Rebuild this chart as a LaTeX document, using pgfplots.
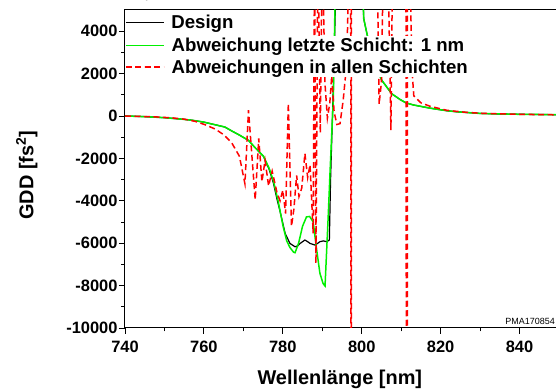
\documentclass[border=0pt]{standalone}
\usepackage{pgfplots}
\pgfplotsset{compat=1.18}
\usepackage{fontspec}
\setmainfont{Liberation Sans}
\definecolor{lgreen}{RGB}{0,240,0}
\definecolor{lred}{RGB}{255,0,0}
\pgfplotsset{
 mylegend/.style={
  legend style={at={(rel axis cs:0,1)}, anchor=north west, draw=none, inner sep=0pt, column sep=5bp, row sep=2.8bp, font=\fontsize{18.7}{22}\selectfont\bfseries},
  legend cell align=left,
  legend image code/.code={\draw[mark repeat=2,mark phase=2,##1] plot coordinates {(0bp,0bp) (19bp,0bp) (38bp,0bp)};},
 }
}
\begin{document}
\begin{tikzpicture}
\begin{axis}[
 name=ax,
 scale only axis, width=434bp, height=318bp,
 xmin=740, xmax=850, ymin=-10000, ymax=5000,
 xtick={740,760,...,840}, xticklabels={740,760,780,800,820,840},
 ytick={-10000,-8000,...,4000}, yticklabels={-10000,-8000,-6000,-4000,-2000,0,2000,4000},
 minor x tick num=1, minor y tick num=1,
 tick pos=left, tick align=outside,
 major tick length=6bp, minor tick length=3.5bp,
 tick style={black, line width=0.9bp},
 axis line style={black, line width=1bp},
 ticklabel style={font=\fontsize{16.5}{18}\selectfont\bfseries},
 xticklabel style={yshift=-4bp},
 yticklabel style={xshift=2bp},
 xlabel={Wellenlänge [nm]}, ylabel={GDD [fs\textsuperscript{2}]},
 label style={font=\fontsize{20}{22}\selectfont\bfseries},
 xlabel style={at={(axis description cs:0.495,-0.179)}, anchor=base},
 ylabel style={at={(axis description cs:-0.2113,0.481)}, anchor=base},
 mylegend,
 legend style={fill=white, yshift=-25.75bp},
]
\addplot[color=black, line width=1.2bp, forget plot] coordinates {
(740,0) (745,-30) (750,-80) (755,-160) (757,-200) (760,-290) (763,-420) (765.3,-520) (767,-700) (769,-900) (771.3,-1150) (773,-1500) (775.1,-1900) (776.5,-2500) (777.6,-3150) (778.5,-3900) (779.3,-4500) (780.6,-5540) (781.8,-6010) (783.1,-6170) (783.8,-6120) (784.4,-6010) (785.6,-5850) (786.3,-5930) (786.9,-6010) (788.2,-6090) (789.4,-5930) (790.3,-5890) (791.1,-5930) (791.8,-5850) (792.1,-3030) (792.5,-500) (792.9,2000) (793.3,5000) (793.6,9000) (797,50000) (799.8,9000) (800.5,4600) (801.3,3900) (802,3350) (803,2700) (804,2150) (805.1,1680) (807.6,1050) (809.7,780) (811.2,620) (813.1,520) (817.3,370) (821.5,250) (824,200) (830,120) (835,95) (840,80) (845,70) (850,60)
};
\addplot[color=lgreen, line width=1.5bp] coordinates {
(740,0) (745,-30) (750,-80) (755,-160) (757,-200) (760,-290) (763,-420) (765.3,-520) (767,-700) (769,-900) (771.3,-1150) (773,-1500) (775.1,-1900) (776.5,-2450) (777.6,-3050) (778.8,-4000) (780.1,-5230) (781,-5900) (781.8,-6200) (782.7,-6420) (783.1,-6450) (784,-6000) (785,-5200) (786,-4760) (786.8,-4740) (787.7,-5000) (788.5,-6200) (789.4,-7420) (790.2,-7900) (790.7,-8020) (791.5,-4750) (792,-2500) (792.4,-830) (792.8,740) (793.2,5000) (793.5,9000) (797,50000) (799.8,9000) (800.5,4600) (801.3,3900) (802,3350) (803,2700) (804,2150) (805.1,1680) (807.6,1050) (809.7,780) (811.2,620) (813.1,520) (817.3,370) (821.5,250) (824,200) (830,120) (835,95) (840,80) (845,70) (850,60)
};
\addlegendentry{Abweichung letzte Schicht: 1 nm}
\addplot[color=lred, line width=1.5bp, dash pattern=on 6bp off 3.5bp] coordinates {
(740,0) (744,-20) (748,-45) (752,-90) (755,-150) (757.7,-250) (760,-390) (762.8,-610) (765,-880) (767,-1250) (769,-1900) (770.4,-3200) (771.3,270) (773.0,-3950) (773.9,-1060) (774.7,-3100) (775.5,-2100) (776.4,-3300) (777.3,-2600) (778.5,-3600) (779.3,-4000) (780.0,-3500) (780.7,-4600) (781.4,600) (782.2,-5200) (782.8,-4400) (783.5,-2800) (784.1,-3800) (784.8,-3400) (785.6,-1770) (786.3,-2900) (786.9,-2300) (787.7,-5540) (788.05,8000) (788.4,-6950) (788.9,8000) (789.5,-800) (790.0,8000) (790.7,1500) (791.3,-100) (791.9,600) (792.4,1900) (793.0,200) (793.7,-400) (794.5,-360) (795.3,740) (796.2,2500) (797.0,9000) (797.15,40000) (797.3,-40000) (797.45,40000) (803.8,9000) (804.4,550) (805.0,1600) (805.6,9000) (806.5,9000) (807.4,-670) (807.9,9000) (811.2,9000) (811.45,-40000) (811.7,40000) (812.4,5200) (812.8,2000) (813.2,950) (815,620) (817.3,460) (821.5,270) (826,180) (830,130) (835,100) (840,80) (845,65) (850,55)
};
\addlegendentry{Abweichungen in allen Schichten}
\node[anchor=base east, xshift=-4bp, yshift=3bp, font=\fontsize{9}{10}\selectfont, inner sep=0pt] at (rel axis cs:1,0) {PMA170854};
\end{axis}
\begin{axis}[
 scale only axis, width=434bp, height=318bp, hide axis,
 xmin=0, xmax=1, ymin=0, ymax=1,
 mylegend,
 legend style={fill=none, yshift=-2.45bp},
]
\addlegendimage{color=black, line width=1.2bp}
\addlegendentry{Design}
\end{axis}
\pgfresetboundingbox
\path[use as bounding box] ([xshift=-125bp,yshift=-63bp]ax.south west) rectangle ([xshift=-3bp,yshift=10bp]ax.north east);
\end{tikzpicture}
\end{document}
